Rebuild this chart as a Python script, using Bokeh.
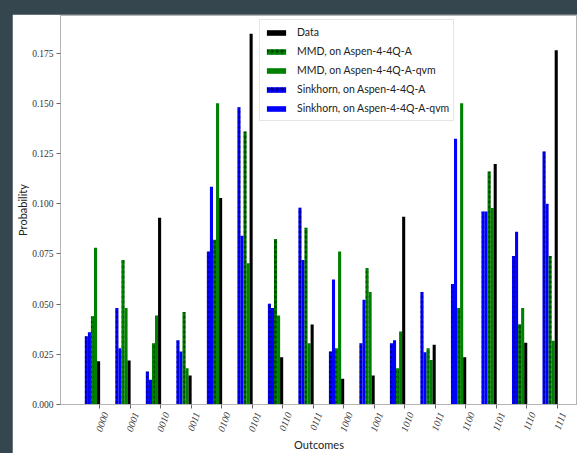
from bokeh.plotting import figure
from bokeh.models import (ColumnDataSource, Range1d, FixedTicker, Legend, LegendItem,
                          PrintfTickFormatter)
from bokeh.embed import file_html
from bokeh.resources import INLINE
import math

outcomes = ["0000", "0001", "0010", "0011", "0100", "0101", "0110", "0111",
            "1000", "1001", "1010", "1011", "1100", "1101", "1110", "1111"]
data = [0.0215, 0.0219, 0.093, 0.0144, 0.1028, 0.1846, 0.0235, 0.0398,
        0.0128, 0.0144, 0.0935, 0.0298, 0.0235, 0.1197, 0.0307, 0.1764]
mmd_a = [0.044, 0.072, 0.0305, 0.046, 0.082, 0.136, 0.0824, 0.088,
         0.028, 0.068, 0.018, 0.028, 0.048, 0.116, 0.040, 0.074]
mmd_qvm = [0.078, 0.048, 0.0443, 0.018, 0.150, 0.0703, 0.0443, 0.0305,
           0.0762, 0.056, 0.0363, 0.0222, 0.150, 0.0978, 0.048, 0.0318]
sink_a = [0.034, 0.048, 0.0164, 0.032, 0.0762, 0.148, 0.0502, 0.098,
          0.0264, 0.0305, 0.0305, 0.056, 0.060, 0.0961, 0.074, 0.126]
sink_qvm = [0.036, 0.028, 0.0123, 0.0264, 0.1084, 0.084, 0.048, 0.072,
            0.0623, 0.0522, 0.032, 0.026, 0.1323, 0.0961, 0.086, 0.100]
y_ticks = [0.0, 0.025, 0.05, 0.075, 0.1, 0.125, 0.15, 0.175]

idx = list(range(len(outcomes)))
bw = 0.101
x0, x1 = -1.278, 15.667
shift = 0.197  # rotated labels sit centred under their tick, as in the reference

p = figure(width=565, height=439, output_backend="svg", toolbar_location=None,
           x_range=Range1d(x0, x1), y_range=Range1d(0, 0.1937),
           min_border_left=48, min_border_right=0, min_border_top=1, min_border_bottom=49)
p.extra_x_ranges = {"lab": Range1d(x0 - shift, x1 - shift)}
p.xgrid.visible = False
p.ygrid.visible = False
p.outline_line_color = "#b5b5b5"
p.background_fill_color = "white"
p.border_fill_color = "white"

series = [
    (sink_a, -0.43, "#0000ff", True),
    (sink_qvm, -0.33, "#0000ff", False),
    (mmd_a, -0.23, "#008000", True),
    (mmd_qvm, -0.13, "#008000", False),
    (data, -0.03, "#000000", False),
]
rends = []
for vals, off, col, hatched in series:
    src = ColumnDataSource(dict(x=[i + off for i in idx], top=vals))
    kw = dict(x="x", top="top", bottom=0, width=bw, fill_color=col, line_color=None)
    if hatched:
        kw.update(hatch_pattern="ring", hatch_color="black", hatch_scale=5,
                  hatch_weight=0.6, hatch_alpha=0.9)
    rends.append(p.vbar(source=src, **kw))

legend = Legend(items=[
    LegendItem(label="Data", renderers=[rends[4]]),
    LegendItem(label="MMD, on Aspen-4-4Q-A", renderers=[rends[2]]),
    LegendItem(label="MMD, on Aspen-4-4Q-A-qvm", renderers=[rends[3]]),
    LegendItem(label="Sinkhorn, on Aspen-4-4Q-A", renderers=[rends[0]]),
    LegendItem(label="Sinkhorn, on Aspen-4-4Q-A-qvm", renderers=[rends[1]]),
], location=(199, 283))
legend.glyph_width = 24
legend.glyph_height = 7
legend.label_height = 16
legend.spacing = 3
legend.padding = 4
legend.margin = 0
legend.label_standoff = 9
legend.label_text_font = "Lato"
legend.label_text_font_size = "10.5px"
legend.label_text_color = "#222222"
legend.border_line_color = "#cccccc"
legend.background_fill_alpha = 0.85
p.add_layout(legend, "center")

# x axis: labels on the shifted range, tick marks (as minor ticks) at the true positions
xa = p.xaxis[0]
xa.x_range_name = "lab"
xa.ticker = FixedTicker(ticks=idx, minor_ticks=[i - shift for i in idx])
xa.major_label_overrides = {i: s for i, s in enumerate(outcomes)}
xa.major_label_orientation = math.radians(70)
xa.major_label_text_font = "Liberation Serif"
xa.major_label_text_font_style = "italic"
xa.major_label_text_font_size = "10px"
xa.major_label_text_color = "#333333"
xa.major_label_standoff = 4
xa.major_tick_in = 0
xa.major_tick_out = 4
xa.major_tick_line_color = None
xa.minor_tick_in = 0
xa.minor_tick_out = 4
xa.minor_tick_line_color = "#666666"
xa.axis_label = "Outcomes"
xa.axis_label_text_font = "Lato"
xa.axis_label_text_font_style = "normal"
xa.axis_label_text_font_size = "11px"
xa.axis_label_text_color = "#222222"
xa.axis_label_standoff = 1
xa.axis_line_color = "#b5b5b5"

ya = p.yaxis[0]
ya.ticker = FixedTicker(ticks=y_ticks)
ya.formatter = PrintfTickFormatter(format="%.3f")
ya.major_label_text_font = "Liberation Serif"
ya.major_label_text_font_size = "9.5px"
ya.major_label_text_color = "#333333"
ya.axis_label = "Probability"
ya.axis_label_text_font = "Lato"
ya.axis_label_text_font_style = "normal"
ya.axis_label_text_font_size = "11px"
ya.axis_label_text_color = "#222222"
ya.axis_label_standoff = 0
ya.minor_tick_line_color = None
ya.major_tick_in = 0
ya.major_tick_out = 4
ya.major_label_standoff = 3
ya.axis_line_color = "#b5b5b5"
ya.major_tick_line_color = "#666666"

html = file_html(p, INLINE)
style = ("<style>html { margin:0 !important; padding:0 !important; background:#36464e !important; } "
         "body { margin:0 !important; padding:14px 0 0 12px !important; box-sizing:border-box !important; "
         "background:#36464e !important; overflow:hidden; }</style>")
pos = html.rfind("</body>")
if pos != -1:
    html = html[:pos] + style + html[pos:]
open("out.html", "w").write(html)
